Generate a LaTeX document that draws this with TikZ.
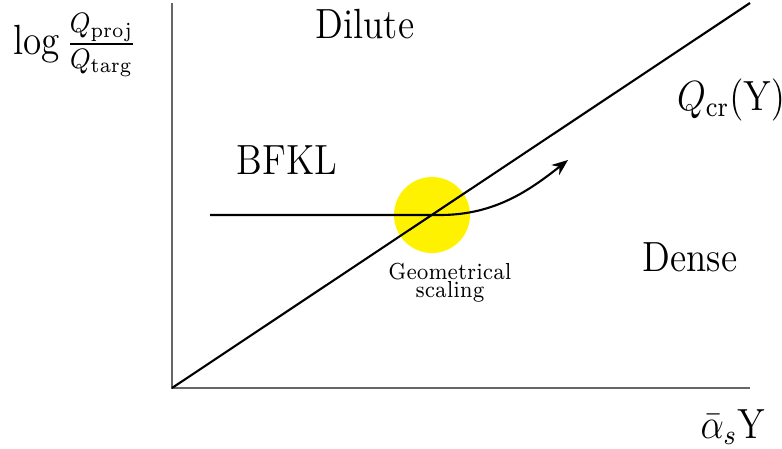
\documentclass[tikz,border=0pt]{standalone}
\usepackage{amsmath}
\usepackage{amssymb}
\usepackage{xcolor}
\usetikzlibrary{arrows.meta, positioning, calc}
\newcommand{\squeezed}[1]{\scalebox{0.88}[1]{#1}}

\begin{document}
\begin{tikzpicture}[x=0.01cm, y=-0.01cm, font=\fontsize{12}{14}\selectfont]
\useasboundingbox (0,0) rectangle (782,448);
\coordinate (O) at (172,388);
\coordinate (ytop) at (172,3);
\coordinate (xend) at (750,388);
\coordinate (crend) at (750,3);
\coordinate (bstart) at (210,215);
\coordinate (bend) at (440,215);
\coordinate (tip) at (568,160);
\fill[yellow] (432,215) circle (38);
\draw[gray!80!black, line width=0.45pt] (ytop) -- (O) -- (xend);
\draw[line width=0.6pt] (O) -- (crend);
\draw[line width=0.6pt, -{Stealth[length=4.6pt, width=3.6pt]}] (bstart) -- (bend) .. controls (495,215) and (530,190) .. (tip);
\node (ylab) at (75,45) {\squeezed{$\log\frac{Q_{\mathrm{proj}}}{Q_{\mathrm{targ}}}$}};
\node (dilute) at (365,24) {\squeezed{Dilute}};
\node (qcr) at (731,100) {\squeezed{$Q_{\mathrm{cr}}(\mathrm{Y})$}};
\node (bfkl) at (287,160) {\squeezed{BFKL}};
\node (dense) at (690,257) {\squeezed{Dense}};
\node[align=center, font=\fontsize{6.6}{5.1}\selectfont] (geo) at (450,283) {\squeezed{Geometrical}\\\squeezed{scaling}};
\node (xlab) at (733,427) {\squeezed{$\bar{\alpha}_s\mathrm{Y}$}};
\end{tikzpicture}
\end{document}
